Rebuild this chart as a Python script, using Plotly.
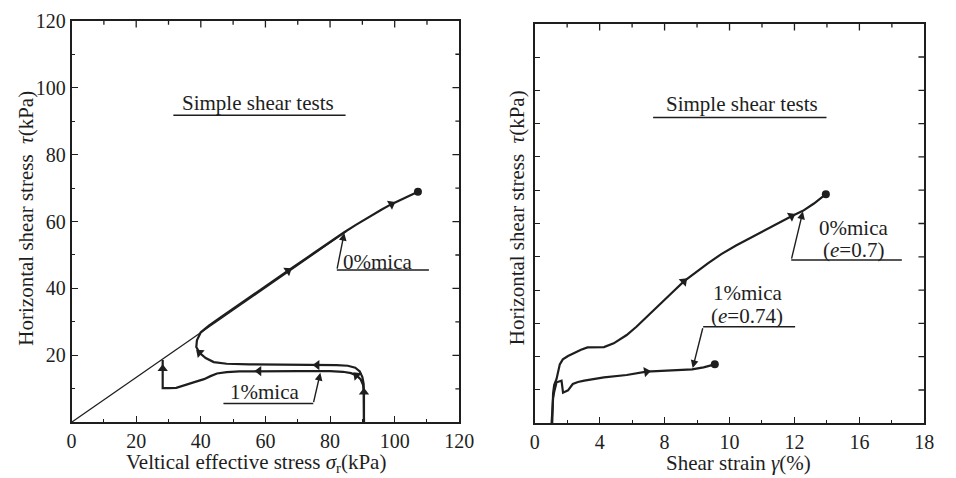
import plotly.graph_objects as go

# ---------------- data ----------------
# Left: stress paths, vertical effective stress (kPa) vs horizontal shear stress (kPa)
env_sigma = [0.0, 85.0]
env_tau = [0.0, 57.0]

mica0_sigma = [90.5, 90.5, 90.5, 90.4, 90.0, 89.2, 87.8, 85.5, 82.0, 76.0, 65.0, 55.0, 48.0,
               44.0, 41.5, 39.6, 38.6, 38.8, 40.0, 42.5, 46.0, 50.0, 55.0, 60.0, 67.0, 75.0,
               80.0, 84.4, 88.0, 92.0, 96.0, 99.0, 102.0, 104.5, 107.2]
mica0_tau = [0.0, 5.0, 9.0, 11.5, 13.5, 15.2, 16.3, 16.9, 17.1, 17.1, 17.2, 17.3, 17.5,
             18.0, 19.2, 20.8, 22.5, 24.5, 26.9, 28.9, 31.3, 34.0, 37.4, 40.7, 45.3, 50.6,
             54.0, 56.8, 59.0, 61.4, 63.6, 65.2, 66.6, 67.7, 68.9]
mica0_arrows = [9, 15, 24, 31]

mica1_sigma = [90.5, 90.5, 90.5, 90.2, 89.5, 88.2, 86.5, 84.0, 80.0, 70.0, 58.0, 52.0, 48.0,
               45.0, 43.0, 41.0, 38.0, 35.0, 32.4, 30.0, 28.2, 28.2, 28.2, 28.2]
mica1_tau = [0.0, 5.0, 9.0, 11.2, 12.8, 14.0, 14.7, 15.1, 15.3, 15.3, 15.3, 15.2, 15.0,
             14.6, 13.8, 12.9, 12.0, 11.1, 10.3, 10.2, 10.2, 13.0, 16.0, 18.6]
mica1_arrows = [2, 5, 10, 22]

sigma_ticks = [0, 20, 40, 60, 80, 100, 120]
sigma_minor = [10, 30, 50, 70, 90, 110]
tau_ticks = [20, 40, 60, 80, 100, 120]
tau_minor = [10, 30, 50, 70, 90, 110]

# Right: shear strain vs horizontal shear stress (kPa)
strain_ticks = [0, 3, 6, 9, 12, 15, 18]
strain_labels = ["0", "4", "8", "10", "12", "16", "18"]
strain_minor = [1.5, 4.5, 7.5, 10.5, 13.5, 16.5]
tau_ticks_right = [10, 20, 30, 40, 50, 60, 70, 80, 90, 100, 110]

r0_strain = [0.81, 0.82, 0.85, 0.90, 1.01, 1.16, 1.30, 1.54, 1.85, 2.14, 2.44, 2.80, 3.20,
             3.65, 4.25, 4.70, 5.16, 5.60, 5.98, 6.45, 6.89, 7.42, 8.00, 8.62, 9.30, 9.98,
             10.70, 11.30, 11.86, 12.39, 12.90, 13.45]
r0_tau = [0.0, 5.0, 9.0, 11.5, 13.3, 17.7, 19.2, 20.2, 21.3, 22.1, 22.8, 22.9, 22.9,
          24.0, 26.5, 29.0, 31.9, 34.6, 37.2, 39.9, 42.6, 45.2, 48.0, 50.8, 53.4, 55.7,
          58.2, 60.2, 62.2, 63.8, 66.0, 68.8]
r0_arrows = [20, 28]

r1_strain = [0.78, 0.80, 0.85, 0.90, 1.01, 1.24, 1.31, 1.54, 1.76, 2.00, 2.29, 3.20, 4.25,
             5.16, 6.21, 7.27, 7.80, 8.32]
r1_tau = [0.0, 4.0, 7.5, 9.4, 12.3, 12.8, 9.2, 9.9, 11.8, 12.4, 12.8, 13.8, 14.5,
          15.5, 15.8, 16.2, 16.8, 17.7]
r1_arrows = [13]

# ---------------- styling ----------------
INK = "#1e1e1e"
FONT = "Liberation Serif"
W, H = 956, 478

left_xdom = [68 / W, 464 / W]
left_ydom = [57 / H, 468 / H]
right_xdom = [541 / W, 939 / W]
right_ydom = [56 / H, 465 / H]


def path_trace(xs, ys, arrows, xa, ya, end_dot=True, width=2.2):
    n = len(xs)
    sizes = [0] * n
    symbols = ["triangle-up"] * n
    for i in arrows:
        sizes[i] = 9
    if end_dot:
        sizes[-1] = 8
        symbols[-1] = "circle"
    return go.Scatter(
        x=xs, y=ys, mode="lines+markers", xaxis=xa, yaxis=ya,
        line=dict(color=INK, width=width),
        marker=dict(size=sizes, symbol=symbols, color=INK, angleref="previous",
                    line=dict(width=0), opacity=1),
        showlegend=False, hoverinfo="skip",
    )


def units_per_px(rng, dom, span_px):
    return (rng[1] - rng[0]) / ((dom[1] - dom[0]) * span_px)


def top_ticks(vals, y_top, length_px, yrng, ydom, xa, ya):
    d = length_px * units_per_px(yrng, ydom, H)
    xs, ys = [], []
    for v in vals:
        xs += [v, v, None]
        ys += [y_top, y_top - d, None]
    return go.Scatter(x=xs, y=ys, mode="lines", xaxis=xa, yaxis=ya,
                      line=dict(color=INK, width=1.3), showlegend=False, hoverinfo="skip")


def right_ticks(vals, x_right, length_px, xrng, xdom, xa, ya):
    d = length_px * units_per_px(xrng, xdom, W)
    xs, ys = [], []
    for v in vals:
        xs += [x_right, x_right - d, None]
        ys += [v, v, None]
    return go.Scatter(x=xs, y=ys, mode="lines", xaxis=xa, yaxis=ya,
                      line=dict(color=INK, width=1.3), showlegend=False, hoverinfo="skip")


fig = go.Figure()
fig.add_trace(go.Scatter(x=env_sigma, y=env_tau, mode="lines", xaxis="x", yaxis="y",
                         line=dict(color=INK, width=1.3), showlegend=False, hoverinfo="skip"))
fig.add_trace(path_trace(mica1_sigma, mica1_tau, mica1_arrows, "x", "y", end_dot=False))
fig.add_trace(path_trace(mica0_sigma, mica0_tau, mica0_arrows, "x", "y"))
fig.add_trace(path_trace(r1_strain, r1_tau, r1_arrows, "x2", "y2"))
fig.add_trace(path_trace(r0_strain, r0_tau, r0_arrows, "x2", "y2"))

# tick rows on the top and right edges of both frames
L_RNG = [0, 120]
S_RNG = [0, 18]
fig.add_trace(top_ticks(sigma_ticks[1:-1], 120, 7, L_RNG, left_ydom, "x", "y"))
fig.add_trace(top_ticks(sigma_minor, 120, 4, L_RNG, left_ydom, "x", "y"))
fig.add_trace(right_ticks(tau_ticks[:-1], 120, 7, L_RNG, left_xdom, "x", "y"))
fig.add_trace(right_ticks(tau_minor, 120, 4, L_RNG, left_xdom, "x", "y"))
fig.add_trace(top_ticks(strain_ticks[1:-1], 120, 7, L_RNG, right_ydom, "x2", "y2"))
fig.add_trace(top_ticks(strain_minor, 120, 4, L_RNG, right_ydom, "x2", "y2"))
fig.add_trace(right_ticks(tau_ticks_right, 18, 6, S_RNG, right_xdom, "x2", "y2"))

axis_common = dict(
    showline=True, linecolor=INK, linewidth=1.5, mirror=True,
    ticks="inside", tickcolor=INK, tickwidth=1.3, ticklen=7,
    showgrid=False, zeroline=False, ticklabeloverflow="allow",
    tickfont=dict(family=FONT, size=20, color=INK),
)
minor_common = dict(ticks="inside", ticklen=4, tickcolor=INK, tickwidth=1.2, showgrid=False)

fig.update_layout(
    width=W, height=H,
    margin=dict(l=0, r=0, t=0, b=0),
    paper_bgcolor="white", plot_bgcolor="white",
    xaxis=dict(axis_common, domain=left_xdom, range=L_RNG, tickvals=sigma_ticks,
               minor=dict(minor_common, tickvals=sigma_minor), anchor="y"),
    yaxis=dict(axis_common, domain=left_ydom, range=L_RNG, tickvals=tau_ticks,
               minor=dict(minor_common, tickvals=tau_minor), anchor="x"),
    xaxis2=dict(axis_common, domain=right_xdom, range=S_RNG,
                tickvals=strain_ticks, ticktext=strain_labels,
                minor=dict(minor_common, tickvals=strain_minor), anchor="y2"),
    yaxis2=dict(axis_common, domain=right_ydom, range=L_RNG,
                tickvals=tau_ticks_right, showticklabels=False, ticklen=6, anchor="x2"),
)

ann = []
shapes = []


def label(text, x, y, xref, yref, size=21):
    ann.append(dict(text=text, x=x, y=y, xref=xref, yref=yref, showarrow=False,
                    font=dict(family=FONT, size=size, color=INK),
                    xanchor="center", yanchor="middle"))


def underline(x0, x1, y, xref, yref):
    shapes.append(dict(type="line", x0=x0, x1=x1, y0=y, y1=y, xref=xref, yref=yref,
                       line=dict(color=INK, width=1.5)))


def leader(x_base, y_base, x_tip, y_tip, xref, yref):
    ann.append(dict(text="", x=x_tip, y=y_tip, ax=x_base, ay=y_base, xref=xref, yref=yref,
                    axref=xref, ayref=yref, showarrow=True, arrowhead=2, arrowsize=1.1,
                    arrowwidth=1.4, arrowcolor=INK, standoff=0, startstandoff=0))


# left panel labels
label("Simple shear tests", 57.6, 95.5, "x", "y")
underline(31.5, 84.8, 91.8, "x", "y")
label("0%mica", 94.8, 48.0, "x", "y")
underline(82.1, 110.6, 45.5, "x", "y")
leader(82.1, 45.5, 84.4, 56.6, "x", "y")
label("1%mica", 59.7, 9.0, "x", "y")
underline(47.0, 74.8, 5.6, "x", "y")
leader(74.8, 5.6, 77.0, 14.8, "x", "y")

# right panel labels
label("Simple shear tests", 9.59, 95.9, "x2", "y2")
underline(5.47, 13.48, 91.8, "x2", "y2")
label("0%mica", 14.74, 58.7, "x2", "y2")
label("(<i>e</i>=0.7)", 14.74, 51.9, "x2", "y2")
underline(11.85, 16.96, 49.0, "x2", "y2")
leader(11.85, 49.0, 12.39, 63.6, "x2", "y2")
label("1%mica", 9.81, 39.0, "x2", "y2")
label("(<i>e</i>=0.74)", 9.81, 32.3, "x2", "y2")
underline(7.78, 12.03, 29.0, "x2", "y2")
leader(7.78, 29.0, 7.30, 16.6, "x2", "y2")


# axis titles
def title(text, x, y, angle=0, size=21):
    ann.append(dict(text=text, x=x, y=y, xref="paper", yref="paper", showarrow=False,
                    textangle=angle, font=dict(family=FONT, size=size, color=INK),
                    xanchor="center", yanchor="middle"))


title("Horizontal shear stress  <i>τ</i>(kPa)", 22 / W, (H - 212) / H, -90)
title("Veltical effective stress <i>σ</i><sub>r</sub>(kPa)", 256 / W, (H - 463) / H)
title("Horizontal shear stress  <i>τ</i>(kPa)", 523 / W, (H - 212) / H, -90)
title("Shear strain <i>γ</i>(%)", 749 / W, (H - 463) / H)

fig.update_layout(annotations=ann, shapes=shapes)
fig.write_html("out.html")
